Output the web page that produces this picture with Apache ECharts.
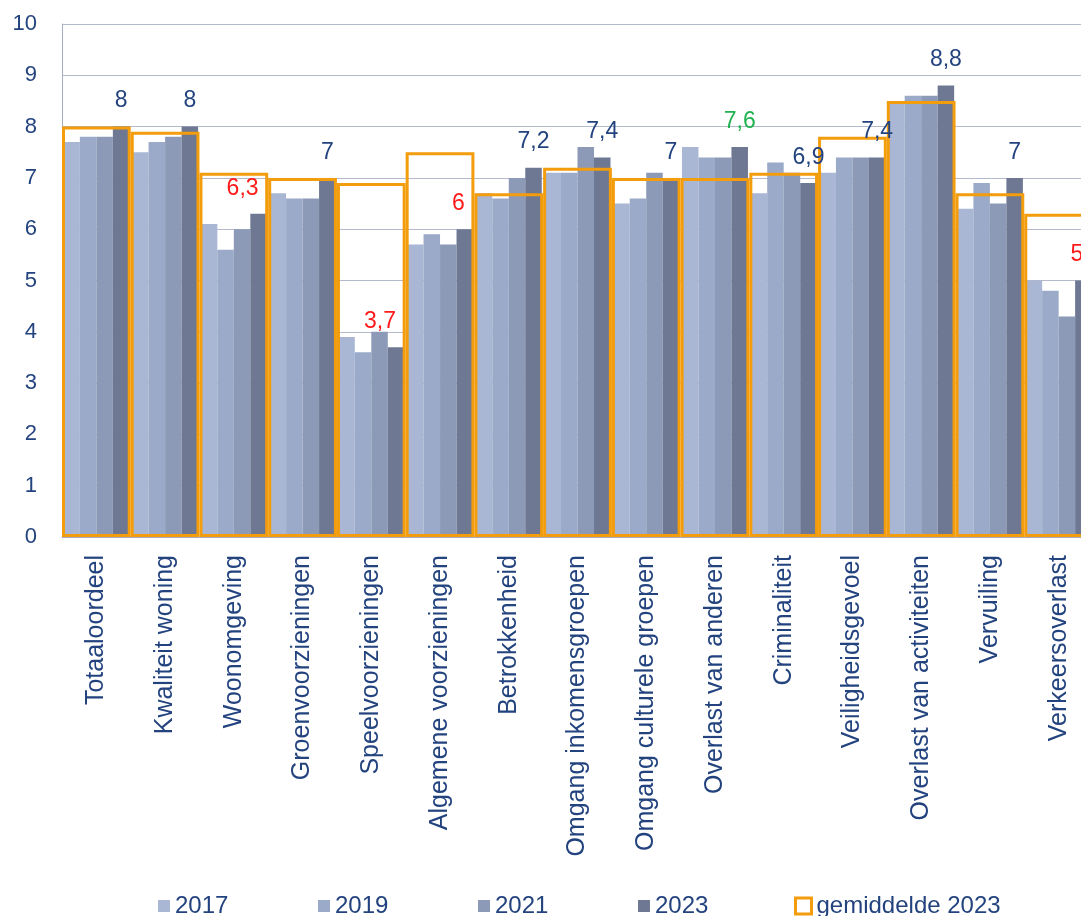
<!DOCTYPE html>
<html>
<head>
<meta charset="utf-8">
<script src="https://cdn.jsdelivr.net/npm/echarts@6/dist/echarts.min.js"></script>
<style>
html,body{margin:0;padding:0;background:#fff;overflow:hidden;}
#chart{width:1081px;height:916px;}
</style>
</head>
<body>
<div id="chart"></div>
<script>
const categories = ['Totaaloordeel','Kwaliteit woning','Woonomgeving','Groenvoorzieningen','Speelvoorzieningen','Algemene voorzieningen','Betrokkenheid','Omgang inkomensgroepen','Omgang culturele groepen','Overlast van anderen','Criminaliteit','Veiligheidsgevoel','Overlast van activiteiten','Vervuiling','Verkeersoverlast'];
const values2017 = [7.7, 7.5, 6.1, 6.7, 3.9, 5.7, 6.7, 7.1, 6.5, 7.6, 6.7, 7.1, 8.5, 6.4, 5.0];
const values2019 = [7.8, 7.7, 5.6, 6.6, 3.6, 5.9, 6.6, 7.1, 6.6, 7.4, 7.3, 7.4, 8.6, 6.9, 4.8];
const values2021 = [7.8, 7.8, 6.0, 6.6, 4.0, 5.7, 7.0, 7.6, 7.1, 7.4, 7.1, 7.4, 8.6, 6.5, 4.3];
const values2023 = [8.0, 8.0, 6.3, 7.0, 3.7, 6.0, 7.2, 7.4, 7.0, 7.6, 6.9, 7.4, 8.8, 7.0, 5.0];
const average2023 = [8.0, 7.9, 7.1, 7.0, 6.9, 7.5, 6.7, 7.2, 7.0, 7.0, 7.1, 7.8, 8.5, 6.7, 6.3];
// -1 = significantly lower, 1 = significantly higher, 0 = no difference
const significance2023 = [0, 0, -1, 0, -1, -1, 0, 0, 0, 1, 0, 0, 0, 0, -1];
const seriesNames = ['2017', '2019', '2021', '2023'];
const averageName = 'gemiddelde 2023';
const yMin = 0, yMax = 10, yStep = 1;

const NAVY = '#23437F';
const ORANGE = '#F39C0C';
const barColors = ['#A9B6D4', '#9AAAC8', '#8C9AB7', '#6E7893'];
const toneColor = {'-1': '#FF1A1A', '0': NAVY, '1': '#1FB24F'};
const FONT = 'Liberation Sans';

const fmt = v => String(v).replace('.', ',');

const data2023 = values2023.map((v, i) => ({
  value: v,
  label: {
    color: toneColor[String(significance2023[i])],
    align: significance2023[i] === -1 ? 'right' : 'center'
  }
}));

const yearSeries = [values2017, values2019, values2021, values2023].map((vals, k) => ({
  name: seriesNames[k],
  type: 'bar',
  xAxisIndex: 0,
  barGap: '0%',
  barCategoryGap: '4%',
  z: 2,
  itemStyle: {color: barColors[k]},
  data: k === 3 ? data2023 : vals,
  label: k === 3 ? {
    show: true,
    position: 'top',
    distance: 14,
    fontFamily: FONT,
    fontSize: 23,
    formatter: p => fmt(p.value)
  } : {show: false}
}));

const chart = echarts.init(document.getElementById('chart'), null, {renderer: 'canvas'});
chart.setOption({
  animation: false,
  backgroundColor: '#ffffff',
  textStyle: {fontFamily: FONT},
  grid: {left: 62, top: 24, width: 1031, height: 513, containLabel: false, outerBoundsMode: 'none'},
  legend: [
    {
      data: seriesNames,
      left: 153, top: 889,
      itemWidth: 12, itemHeight: 12, itemGap: 89.6,
      icon: 'rect',
      textStyle: {color: NAVY, fontSize: 24, fontFamily: FONT}
    },
    {
      data: [{name: averageName, icon: 'rect', itemStyle: {color: '#ffffff', borderColor: ORANGE, borderWidth: 3}}],
      left: 789, top: 889,
      itemWidth: 16, itemHeight: 16,
      textStyle: {color: NAVY, fontSize: 24, fontFamily: FONT}
    }
  ],
  xAxis: [
    {
      type: 'category',
      data: categories,
      axisLine: {show: true, lineStyle: {color: '#A6ABC2', width: 1}},
      axisTick: {show: false},
      axisLabel: {interval: 0, rotate: 90, margin: 18, color: NAVY, fontSize: 25, fontFamily: FONT}
    },
    {
      type: 'category',
      data: categories,
      show: false
    }
  ],
  yAxis: {
    type: 'value',
    min: yMin, max: yMax, interval: yStep,
    axisLine: {show: true, lineStyle: {color: '#A6ABC2', width: 1}},
    axisTick: {show: false},
    splitLine: {show: true, lineStyle: {color: '#B5B9CC', width: 1}},
    axisLabel: {margin: 25, color: NAVY, fontSize: 22, fontFamily: FONT}
  },
  series: yearSeries.concat([{
    name: averageName,
    type: 'bar',
    xAxisIndex: 1,
    barCategoryGap: '0%',
    z: 2,
    itemStyle: {color: 'rgba(0,0,0,0)', borderColor: ORANGE, borderWidth: 3},
    data: average2023
  }])
});
</script>
</body>
</html>
